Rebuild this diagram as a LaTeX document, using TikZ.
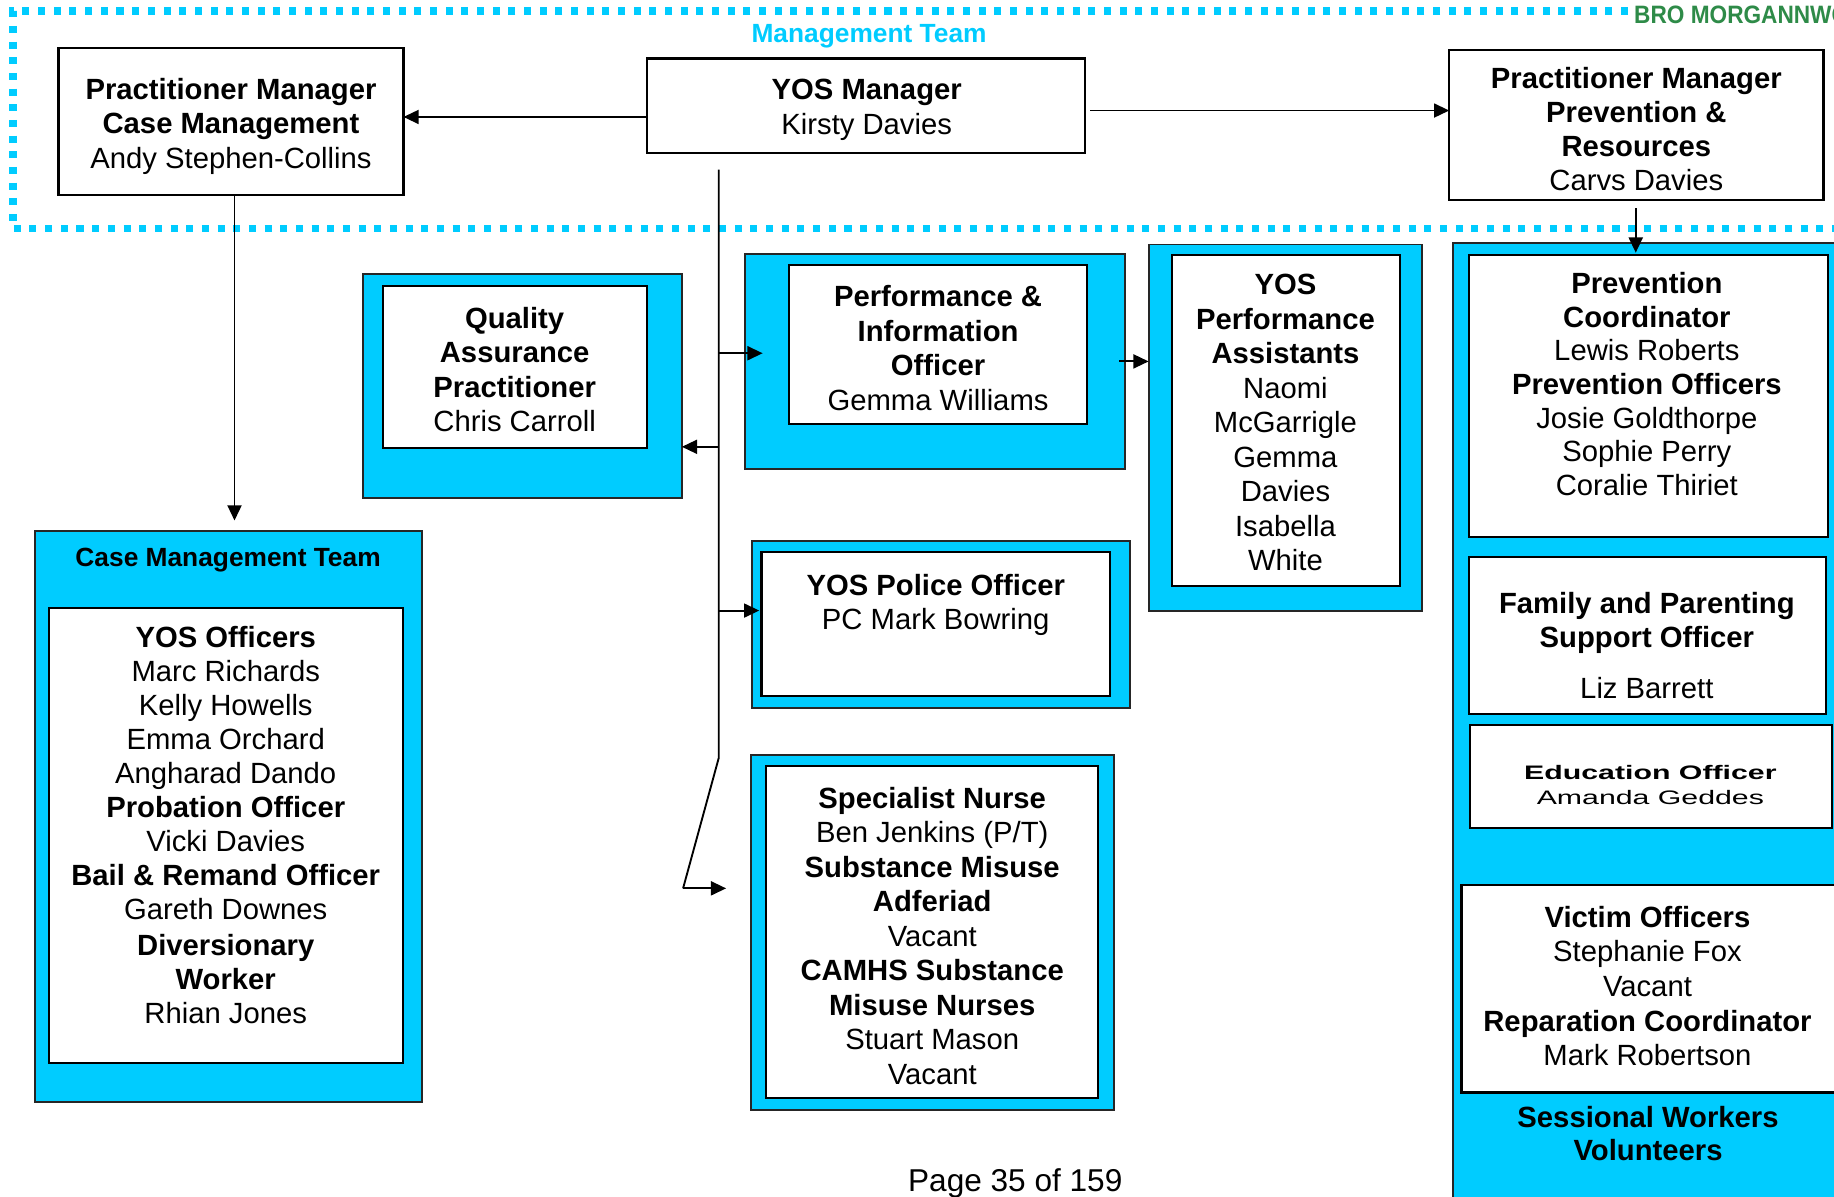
\documentclass[tikz,border=0pt]{standalone}
\usepackage{fontspec}
\setmainfont{Liberation Sans}
\usepackage{graphicx}
\usetikzlibrary{arrows.meta}
\definecolor{cyanfill}{RGB}{0,204,255}
\definecolor{mgtcyan}{RGB}{0,204,255}
\definecolor{brogreen}{RGB}{46,139,72}
\newcommand\orgbox[6]{\node[#1,minimum width={#4-#2},minimum height={#5-#3}] (#6) at ({(#2+#4)/2},{(#3+#5)/2}) {};}
\begin{document}
\begin{tikzpicture}[x=1pt,y=-1pt,
  box/.style={draw=black,line width=1.8pt,fill=white,rectangle,inner sep=0pt,outer sep=0pt},
  outerbox/.style={draw=black!85,line width=1.6pt,fill=cyanfill,rectangle,inner sep=0pt,outer sep=0pt},
  txt/.style={align=center,anchor=north,inner sep=0pt,font=\fontsize{25}{29.5}\selectfont},
  conn/.style={line width=1.6pt,draw=black},
  arr/.style={conn,-{Triangle[length=13pt,width=12pt]}},
]
\useasboundingbox[fill=white] (0,0) rectangle (1568,1023);

% management team dotted frame
\draw[mgtcyan,line width=6.5pt,dash pattern=on 6pt off 7.4pt] (1392,9.5) -- (11,9.5) -- (11,195.5) -- (1580,195.5);
\node[anchor=north,inner sep=0pt,text=mgtcyan,font=\fontsize{22.5}{26}\selectfont\bfseries] (mgt) at (743,20.7) {Management Team};
\node[anchor=base west,inner sep=0pt,text=brogreen,font=\fontsize{21.5}{24}\selectfont\bfseries] (bro) at (1397,20.5) {\scalebox{0.9}[1]{BRO MORGANNWG}};

% boxes
\orgbox{box}{50}{41}{345}{167}{pmc}
\orgbox{box}{553}{50}{928}{131}{ym}
\orgbox{box}{1239}{43}{1559}{171}{pmp}
\orgbox{outerbox}{310}{234}{583}{426}{qao}
\orgbox{box}{327.6}{244.5}{553}{383}{qai}
\orgbox{outerbox}{637}{217}{962}{401}{pio}
\orgbox{box}{674.6}{226.7}{929}{362.5}{pii}
\orgbox{outerbox}{982}{209}{1216}{522}{ypo}
\orgbox{box}{1002}{218}{1197}{501}{ypi}
\orgbox{outerbox}{642.6}{462.5}{966}{605}{poo}
\orgbox{box}{651}{472}{949}{595}{poi}
\orgbox{outerbox}{641.8}{645.5}{952.4}{949}{sno}
\orgbox{box}{655}{655}{939}{939}{sni}
\orgbox{outerbox}{30}{454}{361}{942}{cmo}
\orgbox{box}{42}{520}{344.7}{909}{cmi}
\orgbox{outerbox}{1242}{208}{1600}{1060}{pvo}
\orgbox{box}{1256}{218}{1563}{459}{pvi}
\orgbox{box}{1256}{476.5}{1561}{610.5}{fam}
\orgbox{box}{1257}{620}{1566}{708}{edu}
\orgbox{box}{1249.5}{756.6}{1575}{934}{vic}

% texts
\node[txt] (tpmc) at (197.5,66.5) {\textbf{Practitioner Manager}\\\textbf{Case Management}\\Andy Stephen-Collins};
\node[txt] (tym) at (741,67.5) {\textbf{YOS Manager}\\Kirsty Davies};
\node[txt,font=\fontsize{25}{29}\selectfont] (tpmp) at (1399,57.5) {\textbf{Practitioner Manager}\\\textbf{Prevention \&}\\\textbf{Resources}\\Carvs Davies};
\node[txt] (tqa) at (440,262.5) {\textbf{Quality}\\\textbf{Assurance}\\\textbf{Practitioner}\\Chris Carroll};
\node[txt] (tpi) at (802,244) {\textbf{Performance \&}\\\textbf{Information}\\\textbf{Officer}\\Gemma Williams};
\node[txt] (typ) at (1099,234.5) {\textbf{YOS}\\\textbf{Performance}\\\textbf{Assistants}\\Naomi\\McGarrigle\\Gemma\\Davies\\Isabella\\White};
\node[txt] (tpo) at (800,490.5) {\textbf{YOS Police Officer}\\PC Mark Bowring};
\node[txt] (tsn) at (797,672.5) {\textbf{Specialist Nurse}\\Ben Jenkins (P/T)\\\textbf{Substance Misuse}\\\textbf{Adferiad}\\Vacant\\\textbf{CAMHS Substance}\\\textbf{Misuse Nurses}\\Stuart Mason\\Vacant};
\node[anchor=north,inner sep=0pt,font=\fontsize{22.5}{26}\selectfont\bfseries] (tcmt) at (195,468.5) {Case Management Team};
\node[txt,font=\fontsize{25}{29}\selectfont] (tcm) at (193,535.5) {\textbf{YOS Officers}\\Marc Richards\\Kelly Howells\\Emma Orchard\\Angharad Dando\\\textbf{Probation Officer}\\Vicki Davies\\\textbf{Bail \& Remand Officer}\\Gareth Downes\\[2pt]\textbf{Diversionary}\\\textbf{Worker}\\Rhian Jones};
\node[txt,font=\fontsize{25}{28.8}\selectfont] (tpv) at (1408,232.5) {\textbf{Prevention}\\\textbf{Coordinator}\\Lewis Roberts\\\textbf{Prevention Officers}\\Josie Goldthorpe\\Sophie Perry\\Coralie Thiriet};
\node[txt,font=\fontsize{25}{28.5}\selectfont] (tfam) at (1408,506.5) {\textbf{Family and Parenting}\\\textbf{Support Officer}\\[15pt]Liz Barrett};
\node[anchor=north,inner sep=0pt] (tedu) at (1411,650.6) {\scalebox{1.55}[1]{\fontsize{16.7}{22}\selectfont\begin{tabular}{@{}c@{}}\textbf{Education Officer}\\Amanda Geddes\end{tabular}}};
\node[txt,font=\fontsize{25}{29.6}\selectfont] (tvic) at (1408.5,774.5) {\textbf{Victim Officers}\\Stephanie Fox\\Vacant\\\textbf{Reparation Coordinator}\\Mark Robertson};
\node[txt,font=\fontsize{25}{27.5}\selectfont] (tses) at (1409,946) {\textbf{Sessional Workers}\\\textbf{Volunteers}};
\node[anchor=north,inner sep=0pt,font=\fontsize{27}{31}\selectfont] (page) at (868,999.3) {Page 35 of 159};

% connectors
\coordinate (h1) at (0,100);
\draw[arr] (ym.west |- h1) -- (pmc.east |- h1);
\coordinate (h2) at (0,94.5);
\draw[arr,shorten <=4pt] (ym.east |- h2) -- (pmp.west |- h2);
\coordinate (v1) at (200.5,0);
\draw[arr,shorten >=9pt] (pmc.south -| v1) -- (cmo.north -| v1);
\coordinate (v2) at (1398.5,0);
\draw[arr,shorten <=7pt,shorten >=2pt] (pmp.south -| v2) -- (pvi.north -| v2);

\coordinate (ttop) at (614.5,145);
\coordinate (tbend) at (614.5,648);
\coordinate (tfoot) at (584,759.5);
\draw[conn] (ttop) -- (tbend) -- (tfoot);
\coordinate (b1) at (614.5,302);
\draw[arr,shorten >=-15pt] (b1) -- (b1 -| pio.west);
\coordinate (b2) at (614.5,382);
\draw[arr] (b2) -- (b2 -| qao.east);
\coordinate (b3) at (614.5,522);
\draw[arr,shorten >=-6.5pt] (b3) -- (b3 -| poo.west);
\draw[arr,shorten >=21pt] (tfoot) -- (tfoot -| sno.west);
\draw[arr,shorten <=-5pt] (pio.east) -- (pio.east -| ypo.west);
\end{tikzpicture}
\end{document}
